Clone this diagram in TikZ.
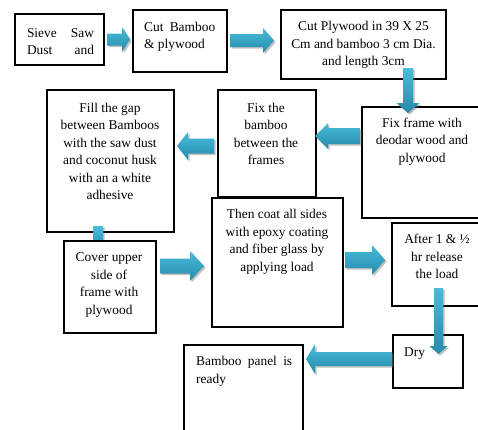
\documentclass[tikz,border=0pt]{standalone}
\usepackage{fontspec}
\setmainfont{Liberation Serif}
\usetikzlibrary{calc,shadows}
\definecolor{arrtop}{RGB}{72,188,218}
\definecolor{arrbot}{RGB}{38,138,172}
\tikzset{
  box/.style={draw=black, line width=2.4pt, fill=white, inner sep=0pt},
  txt/.style={font=\fontsize{13.4}{17.5}\selectfont, inner sep=0pt, align=center},
  barrow/.style n args={3}{
    shade, top color=arrtop, bottom color=arrbot,
    drop shadow={shadow xshift=1.6pt, shadow yshift=-1.6pt, fill=black!55, opacity=.45},
    to path={
      ($(\tikztostart)!#1!90:(\tikztotarget)$)
      -- ($(\tikztotarget)!#3!(\tikztostart)!#1!-90:(\tikztostart)$)
      -- ($(\tikztotarget)!#3!(\tikztostart)!#2!-90:(\tikztostart)$)
      -- (\tikztotarget)
      -- ($(\tikztotarget)!#3!(\tikztostart)!#2!90:(\tikztostart)$)
      -- ($(\tikztotarget)!#3!(\tikztostart)!#1!90:(\tikztostart)$)
      -- ($(\tikztostart)!#1!-90:(\tikztotarget)$)
      -- cycle
    }
  }
}
\begin{document}
\begin{tikzpicture}[x=1pt,y=-1pt]
\useasboundingbox (0,0) rectangle (478,429);
% boxes
\node[box, minimum width=89pt, minimum height=51pt] (b1) at (59.5,39.5) {};
\node[box, minimum width=94pt, minimum height=62pt] (b2) at (180,41) {};
\node[box, minimum width=165pt, minimum height=69pt] (b3) at (363.5,44.5) {};
\node[box, minimum width=120pt, minimum height=111pt] (b4) at (422,162.5) {};
\node[box, minimum width=98pt, minimum height=107pt] (b5) at (267,143.5) {};
\node[box, minimum width=127pt, minimum height=142pt] (b6) at (110.5,161) {};
% hidden down arrow from b6 to b7
\coordinate (a6s) at (98,226);
\coordinate (a6e) at (98,252);
\path[barrow={5pt}{11pt}{9pt}] (a6s) to (a6e);
\node[box, minimum width=92pt, minimum height=92pt] (b7) at (110,287) {};
\node[box, minimum width=131pt, minimum height=129pt] (b8) at (277.5,262.5) {};
\node[box, minimum width=90pt, minimum height=83pt] (b9) at (437,264.5) {};
\node[box, minimum width=70pt, minimum height=53pt] (b10) at (428,361.5) {};
\node[box, minimum width=119pt, minimum height=87pt] (b11) at (243.5,388.5) {};
% texts
\node[txt, align=left] (t1) at (60.5,41.5) {\hbox to 67pt{Sieve\hfill Saw}\\\hbox to 67pt{Dust\hfill and}};
\node[txt, align=left, anchor=west] (t2) at (144,37) {\hbox to 71pt{Cut\hfill Bamboo}\\\& plywood};
\node[txt] (t3) at (363.5,45) {Cut Plywood in 39 X 25\\Cm and bamboo 3 cm Dia.\\and length 3cm};
\node[txt] (t4) at (422,141.5) {Fix frame with\\deodar wood and\\plywood};
\node[txt] (t5) at (266,134) {Fix the\\bamboo\\between the\\frames};
\node[txt] (t6) at (110,151.5) {Fill the gap\\between Bamboos\\with the saw dust\\and coconut husk\\with an a white\\adhesive};
\node[txt] (t7) at (109,285) {Cover upper\\side of\\frame with\\plywood};
\node[txt] (t8) at (277,242) {Then coat all sides\\with epoxy coating\\and fiber glass by\\applying load};
\node[txt] (t9) at (437,256.5) {After 1 \& ½\\hr release\\the load};
\node[txt, anchor=west] (t10) at (404,354) {Dry};
\node[txt, align=left, anchor=west] (t11) at (196,371.5) {\hbox to 96pt{Bamboo\hfill panel\hfill is}\\ready};
% arrows
\coordinate (a1s) at (107,39.5);
\coordinate (a1e) at (130,39.5);
\path[barrow={6pt}{12.5pt}{8pt}] (a1s) to (a1e);
\coordinate (a2s) at (230,40.5);
\coordinate (a2e) at (274,40.5);
\path[barrow={6.5pt}{12.5pt}{11pt}] (a2s) to (a2e);
\coordinate (a3s) at (408,68);
\coordinate (a3e) at (408,113);
\path[barrow={5pt}{11.5pt}{10pt}] (a3s) to (a3e);
\coordinate (a4s) at (360,136);
\coordinate (a4e) at (315,136);
\path[barrow={8pt}{13pt}{13pt}] (a4s) to (a4e);
\coordinate (a5s) at (214,146);
\coordinate (a5e) at (177,146);
\path[barrow={7.5pt}{14pt}{11pt}] (a5s) to (a5e);
\coordinate (a7s) at (160,266);
\coordinate (a7e) at (204,266);
\path[barrow={7.5pt}{15pt}{14pt}] (a7s) to (a7e);
\coordinate (a8s) at (345,260);
\coordinate (a8e) at (385,260);
\path[barrow={8pt}{15pt}{13pt}] (a8s) to (a8e);
\coordinate (a9s) at (438.5,288);
\coordinate (a9e) at (438.5,354);
\path[barrow={4.5pt}{9pt}{8pt}] (a9s) to (a9e);
\coordinate (a10s) at (392,359);
\coordinate (a10e) at (306,359);
\path[barrow={7pt}{15pt}{9pt}] (a10s) to (a10e);
\end{tikzpicture}
\end{document}
